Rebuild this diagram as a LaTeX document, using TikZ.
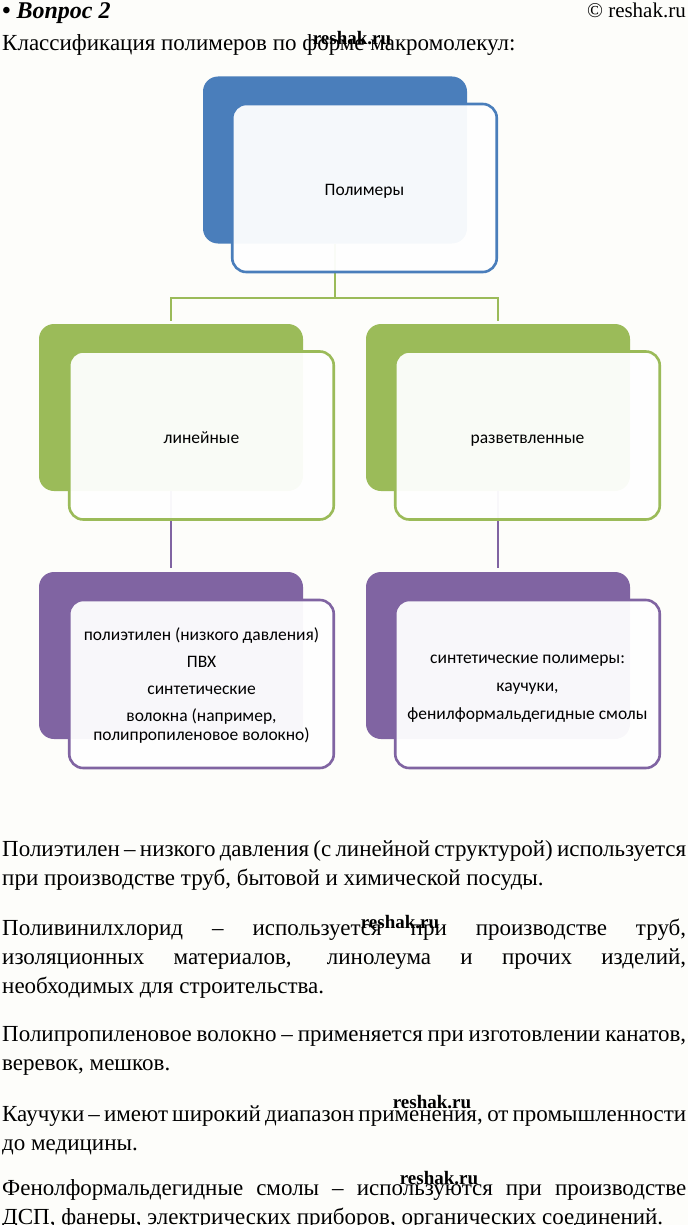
\documentclass[tikz,border=0pt]{standalone}
\usepackage{fontspec}
\setmainfont{Liberation Serif}
\newfontfamily\calibfam{Carlito}
\definecolor{blueC}{RGB}{74,126,187}
\definecolor{greenC}{RGB}{155,187,89}
\definecolor{purpleC}{RGB}{128,100,162}
\definecolor{pageC}{RGB}{253,253,250}
\newcommand\mybodyfont{\fontsize{23}{29}\selectfont}
\newcommand\myboxfont{\calibfam\fontsize{17.5}{19.5}\selectfont}
\newcommand\mywmfont{\bfseries\fontsize{19}{19}\selectfont}
\begin{document}
\begin{tikzpicture}[x=1pt,y=-1pt,
  backbox/.style={rectangle, rounded corners=15pt, minimum width=264pt, minimum height=167pt, inner sep=0pt, outer sep=0pt},
  frontbox/.style={rectangle, rounded corners=14pt, draw, line width=2.6pt, fill=white, fill opacity=0.95, text opacity=1, minimum width=264.5pt, minimum height=168pt, inner sep=2pt, align=center, font=\myboxfont, text=black},
  oneline/.style={text height=17pt, text depth=1.8pt},
  conn/.style={line width=2.8pt},
  bodypar/.style={anchor=base west, inner sep=0pt, text width=684pt, align=justify, font=\mybodyfont},
  wm/.style={font=\mywmfont, inner sep=0pt}]
\fill[pageC] (0,0) rectangle (688,1225);
\useasboundingbox (0,0) rectangle (688,1225);

% header
\node[anchor=base west, inner sep=0pt, font=\bfseries\itshape\fontsize{24}{24}\selectfont] (q) at (2,19) {• Вопрос 2};
\node[anchor=base east, inner sep=0pt, font=\fontsize{21}{21}\selectfont] (copy) at (686,18) {© reshak.ru};
\node[anchor=base west, inner sep=0pt, font=\mybodyfont] (title) at (2,51) {Классификация полимеров по форме макромолекул:};

% back boxes
\node[backbox, fill=blueC] (pb) at (335,160) {};
\node[backbox, fill=greenC] (lb) at (171,407.5) {};
\node[backbox, fill=greenC] (rb) at (498,407.5) {};
\node[backbox, fill=purpleC] (lpb) at (171,655.5) {};
\node[backbox, fill=purpleC] (rpb) at (498,655.5) {};

% connectors
\coordinate (j) at (335,298);
\draw[conn, greenC, shorten >=3pt] (pb.south) -- (j) -| (lb.north);
\draw[conn, greenC, shorten >=3pt] (j) -| (rb.north);
\draw[conn, purpleC, shorten >=4pt] (lb.south) -- (lpb.north);
\draw[conn, purpleC, shorten >=4pt] (rb.south) -- (rpb.north);

% front boxes
\node[frontbox, oneline, draw=blueC] (p) at (364.5,188) {Полимеры};
\node[frontbox, oneline, draw=greenC] (l) at (201.5,435.5) {линейные};
\node[frontbox, oneline, draw=greenC] (r) at (527.5,435.5) {разветвленные};
\node[frontbox, draw=purpleC, font=\calibfam\fontsize{17.5}{19}\selectfont] (lp) at (201.5,684) {\rule{0pt}{16pt}полиэтилен (низкого давления)\\[8pt] ПВХ\\[8pt] синтетические\\[8pt] волокна (например,\\ полипропиленовое волокно)};
\node[frontbox, draw=purpleC] (rp) at (527.5,684) {\rule{0pt}{18pt}синтетические полимеры:\\[8.5pt] каучуки,\\[8.5pt] фенилформальдегидные смолы};

% body text
\node[bodypar] (t1) at (2,856) {\hyphenpenalty=10000 Полиэтилен – низкого давления (с линейной структурой) используется\linebreak при производстве труб, бытовой и химической посуды.};
\node[bodypar] (t2) at (2,935) {\hyphenpenalty=10000 Поливинилхлорид – используется при производстве труб,\linebreak изоляционных материалов, линолеума и прочих изделий,\linebreak необходимых для строительства.};
\node[bodypar] (t3) at (2,1041.5) {\hyphenpenalty=10000 Полипропиленовое волокно – применяется при изготовлении канатов,\linebreak веревок, мешков.};
\node[bodypar] (t4) at (2,1121) {\hyphenpenalty=10000 Каучуки – имеют широкий диапазон применения, от промышленности\linebreak до медицины.};
\node[bodypar] (t5) at (2,1195) {\hyphenpenalty=10000 Фенолформальдегидные смолы – используются при производстве\linebreak ДСП, фанеры, электрических приборов, органических соединений.};

% watermarks
\node[wm] (w1) at (352,38) {reshak.ru};
\node[wm] (w2) at (400,922) {reshak.ru};
\node[wm] (w3) at (432,1102) {reshak.ru};
\node[wm] (w4) at (439,1178) {reshak.ru};
\end{tikzpicture}
\end{document}
